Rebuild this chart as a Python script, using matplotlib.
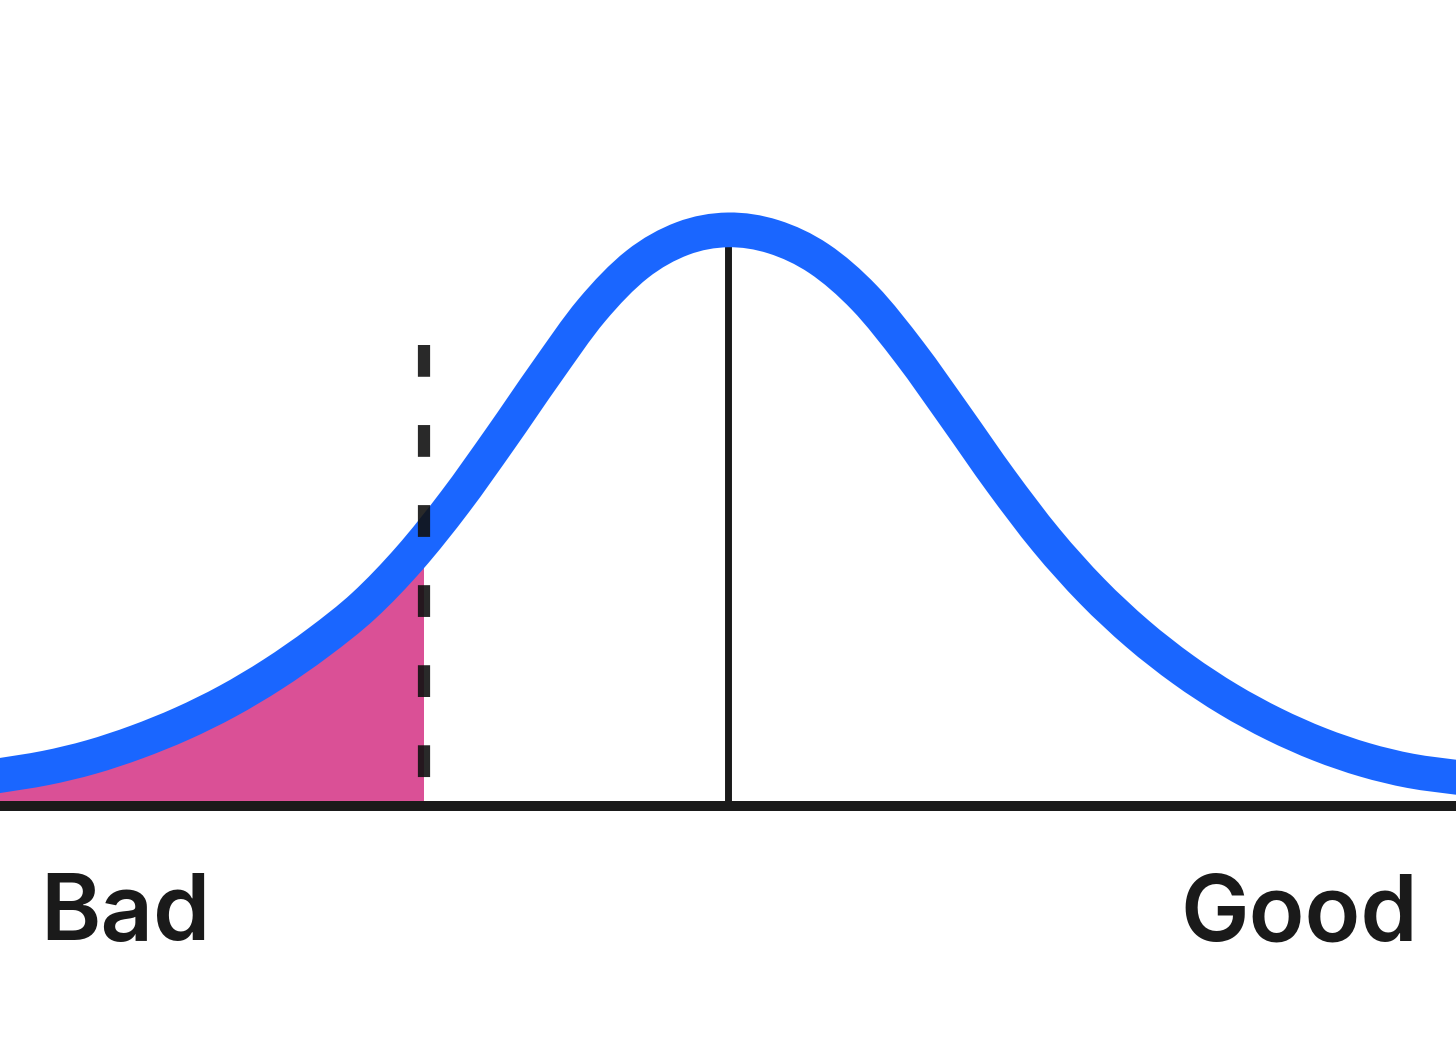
import matplotlib.pyplot as plt
from matplotlib.path import Path
from matplotlib.patches import PathPatch, Rectangle

# ---------------- DATA ----------------
# score position (-4 = far left "Bad", +4 = far right "Good") and curve height (peak = 1)
score = [-4.0, -3.75, -3.5, -3.25, -3.0, -2.75, -2.5, -2.25, -2.0, -1.75,
         -1.5, -1.25, -1.0, -0.75, -0.5, -0.25, 0.0, 0.25, 0.5,
         0.75, 1.0, 1.25, 1.5, 1.75, 2.0, 2.25, 2.5, 2.75, 3.0, 3.25, 3.5, 3.75, 4.0]
height = [0.053, 0.066, 0.085, 0.111, 0.143, 0.182, 0.229, 0.284, 0.348, 0.430,
          0.528, 0.638, 0.752, 0.860, 0.940, 0.985, 1.0, 0.988, 0.950,
          0.882, 0.786, 0.676, 0.564, 0.461, 0.373, 0.299, 0.237, 0.185, 0.142,
          0.107, 0.080, 0.061, 0.050]

CUTOFF = -1.67      # dashed threshold
MEAN = 0.0          # solid centre line
labels = ['Bad', 'Good']
# -------------------------------------------------------------

BLUE = '#1a66ff'
PINK = '#da5096'
INK = '#1a1a1a'


def smooth_curve(xs, ys):
    # cubic bezier through every point (catmull-rom tangents), just for drawing
    pts = list(zip(xs, ys))
    verts = [pts[0]]
    codes = [Path.MOVETO]
    n = len(pts)
    for i in range(n - 1):
        p0 = pts[max(i - 1, 0)]
        p1 = pts[i]
        p2 = pts[i + 1]
        p3 = pts[min(i + 2, n - 1)]
        c1 = (p1[0] + (p2[0] - p0[0]) / 6, p1[1] + (p2[1] - p0[1]) / 6)
        c2 = (p2[0] - (p3[0] - p1[0]) / 6, p2[1] - (p3[1] - p1[1]) / 6)
        verts += [c1, c2, p2]
        codes += [Path.CURVE4] * 3
    return verts, codes


fig = plt.figure(figsize=(14.56, 10.48), dpi=100)
ax = fig.add_axes([0, 0, 1, 1])
ax.set_xlim(-4, 4)
ax.set_ylim(-0.42, 1.399)
ax.axis('off')

verts, codes = smooth_curve(score, height)

# shaded tail left of the cutoff: area under the curve, clipped at the cutoff
area = Path(verts + [(score[-1], 0), (score[0], 0), (0, 0)],
            codes + [Path.LINETO, Path.LINETO, Path.CLOSEPOLY])
tail = PathPatch(area, facecolor=PINK, lw=0, zorder=1)
ax.add_patch(tail)
clip = Rectangle((score[0] - 1, -0.1), CUTOFF - score[0] + 1, 2,
                 transform=ax.transData)
tail.set_clip_path(clip)

# baseline
ax.axhline(0, color=INK, lw=7.2, zorder=2)

# centre line up to the peak
ax.plot([MEAN, MEAN], [0, max(height)], color=INK, lw=5, zorder=2,
        solid_capstyle='butt')

# the curve
ax.add_patch(PathPatch(Path(verts, codes), fill=False, edgecolor=BLUE, lw=25,
                       joinstyle='round', capstyle='projecting', zorder=3))

# dashed threshold, drawn top to bottom so the pattern starts at the top
ax.plot([CUTOFF, CUTOFF], [0.80, 0.045], color='#111111', lw=8.8, zorder=4,
        linestyle=(0, (2.6, 3.95)), dash_capstyle='butt', alpha=0.9)

font = dict(family=['Inter', 'Lato', 'DejaVu Sans'], fontsize=66, fontweight='semibold',
            color=INK, va='baseline')
ax.text(-3.78, -0.233, labels[0], ha='left', **font)
ax.text(3.79, -0.233, labels[1], ha='right', **font)

fig.savefig('out.png', dpi=100, facecolor='white')
